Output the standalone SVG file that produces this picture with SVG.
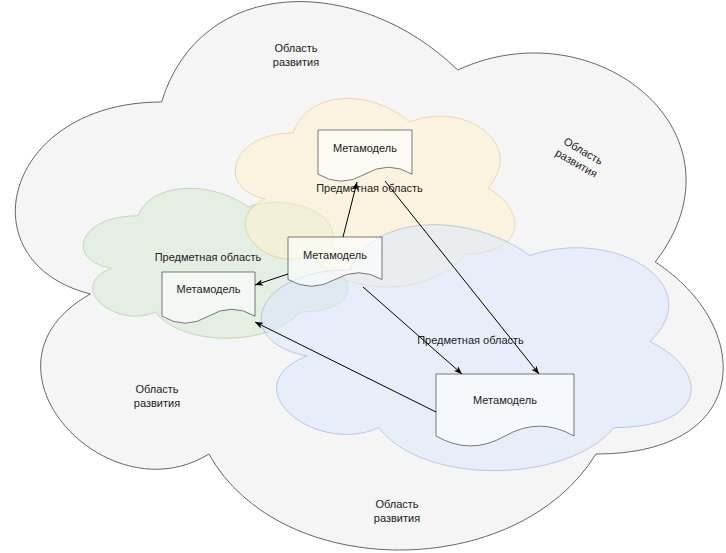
<svg xmlns="http://www.w3.org/2000/svg" width="726" height="553" viewBox="0 0 726 553">
<style>
text{font-family:"Liberation Sans",Arial,sans-serif;font-size:11px;fill:#222;text-anchor:middle}
.big{fill:#f5f5f5;stroke:#666;stroke-width:1}
.yel{fill:#fff2cc;fill-opacity:.5;stroke:#d6b656;stroke-opacity:.45;stroke-width:1}
.grn{fill:#d5e8d4;fill-opacity:.55;stroke:#82b366;stroke-opacity:.4;stroke-width:1}
.blu{fill:#dae8fc;fill-opacity:.55;stroke:#6c8ebf;stroke-opacity:.4;stroke-width:1}
.doc{fill:#fff;fill-opacity:.6;stroke:#000;stroke-opacity:.5;stroke-width:1}
.edge{fill:none;stroke:#000;stroke-width:1}
</style>
<defs>
<marker id="arr" viewBox="0 0 10 10" refX="10" refY="5" markerWidth="9" markerHeight="8" markerUnits="userSpaceOnUse" orient="auto">
<path d="M0,1 L10,5 L0,9 L2.5,5 Z" fill="#000"/>
</marker>
</defs>
<g id="cloud-outer">
<path class="big" d="M161.5,102 C3.5,102 -36,262 90.4,294 C-36,364.4 106.2,518 208.9,454 C280,582 517,582 596,454 C754,454 754,326 655.25,262 C754,134 596,6 457.75,70 C359,-26 201,-26 161.5,102 Z"/>
<text x="296" y="52">Область</text><text x="296" y="66">развития</text>
<g transform="translate(580,157) rotate(30)"><text x="0" y="-3">Область</text><text x="0" y="11">развития</text></g>
<text x="157" y="393">Область</text><text x="157" y="407">развития</text>
<text x="397" y="508">Область</text><text x="397" y="522">развития</text>
</g>
<g id="cloud-green">
<path class="grn" d="M137.75,215.75 C78.75,215.75 64,259.5 111.2,268.25 C64,287.5 117.1,329.5 155.45,312 C182,347 270.5,347 300,312 C359,312 359,277 322.1,259.5 C359,224.5 300,189.5 248.4,207 C211.5,180.75 152.5,180.75 137.75,215.75 Z"/>
<text x="208" y="261">Предметная область</text>
</g>
<g id="cloud-yellow">
<path class="yel" d="M293,133 C230.6,133 215,188 264.9,199 C215,223.2 271.2,276 311.7,254 C339.8,298 433.4,298 464.6,254 C527,254 527,210 488,188 C527,144 464.6,100 410,122 C371,89 308.6,89 293,133 Z"/>
<text x="369.5" y="192">Предметная область</text>
</g>
<g id="cloud-blue">
<path class="blu" d="M350,269.75 C254,269.75 230,341.5 306.8,355.85 C230,387.42 316.4,456.3 378.8,427.6 C422,485 566,485 614,427.6 C710,427.6 710,370.2 650,341.5 C710,284.1 614,226.7 530,255.4 C470,212.35 374,212.35 350,269.75 Z"/>
<text x="470.5" y="344">Предметная область</text>
</g>
<g id="doc-top">
<path class="doc" d="M318,130 H412 V174.2 Q388.5,160.2 365,174.2 Q341.5,188.2 318,174.2 Z"/>
<text x="365" y="152">Метамодель</text>
</g>
<g id="doc-middle">
<path class="doc" d="M288,237 H382 V279.5 Q358.5,266 335,279.5 Q311.5,293 288,279.5 Z"/>
<text x="335" y="258.5">Метамодель</text>
</g>
<g id="doc-left">
<path class="doc" d="M162,272 H255 V316.2 Q231.75,302.2 208.5,316.2 Q185.25,330.2 162,316.2 Z"/>
<text x="208.5" y="293">Метамодель</text>
</g>
<g id="doc-bottom">
<path class="doc" d="M436,374 H574 V436 Q539.5,416.3 505,436 Q470.5,455.8 436,436 Z"/>
<text x="505" y="404">Метамодель</text>
</g>
<g id="connectors">
<path class="edge" marker-end="url(#arr)" d="M343,237 L357,182"/>
<path class="edge" marker-end="url(#arr)" d="M288,274 L255,285"/>
<path class="edge" marker-end="url(#arr)" d="M363,287 L462,374"/>
<path class="edge" marker-end="url(#arr)" d="M385,181 L539,374"/>
<path class="edge" marker-end="url(#arr)" d="M436,412 L255,322"/>
</g>
</svg>
